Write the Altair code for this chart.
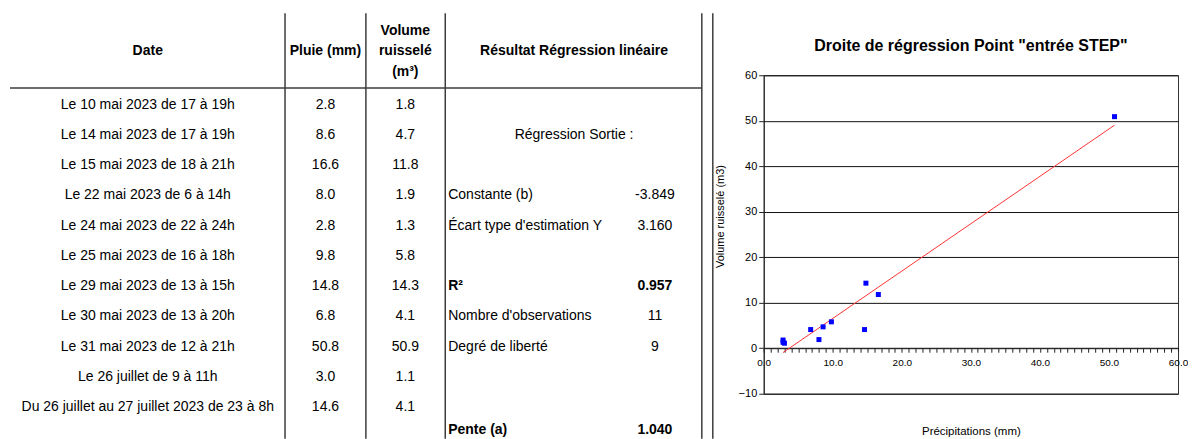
import altair as alt
import pandas as pd

FONT = "Liberation Sans"

# ---------------- data ----------------
dates = [
    "Le 10 mai 2023 de 17 à 19h",
    "Le 14 mai 2023 de 17 à 19h",
    "Le 15 mai 2023 de 18 à 21h",
    "Le 22 mai 2023 de 6 à 14h",
    "Le 24 mai 2023 de 22 à 24h",
    "Le 25 mai 2023 de 16 à 18h",
    "Le 29 mai 2023 de 13 à 15h",
    "Le 30 mai 2023 de 13 à 20h",
    "Le 31 mai 2023 de 12 à 21h",
    "Le 26 juillet de 9 à 11h",
    "Du 26 juillet au 27 juillet 2023 de 23 à 8h",
]
pluie = [2.8, 8.6, 16.6, 8.0, 2.8, 9.8, 14.8, 6.8, 50.8, 3.0, 14.6]
volume = [1.8, 4.7, 11.8, 1.9, 1.3, 5.8, 14.3, 4.1, 50.9, 1.1, 4.1]

reg_heading = "Régression Sortie :"
reg_heading_row = 1
reg_labels = ["Constante (b)", "Écart type d'estimation Y", "R²",
              "Nombre d'observations", "Degré de liberté", "Pente (a)"]
reg_values = ["-3.849", "3.160", "0.957", "11", "9", "1.040"]
reg_rows = [3, 4, 6, 7, 8, 10.75]
reg_bold = [False, False, True, False, False, True]

chart_title = 'Droite de régression Point "entrée STEP"'
x_title = "Précipitations (mm)"
y_title = "Volume ruisselé (m3)"

# ---------------- table ----------------
rows_df = pd.DataFrame({"row": list(range(len(dates))), "date": dates,
                        "pluie": pluie, "volume": volume})
reg_df = pd.DataFrame({"row": reg_rows, "label": reg_labels,
                       "value": reg_values, "bold": reg_bold})
one = pd.DataFrame({"k": [0]})

TW, TH = 707, 356
R_TOP, R_BOT = -3.135, 11.09
# table rows are mapped so that the header sits above the view top
yscale = alt.Scale(domain=[R_TOP, R_BOT], range=[-67, 364], nice=False, zero=False)
LINE = "#3c3c3c"


def yfield():
    return alt.Y("row:Q", scale=yscale, axis=None)


def ydatum(v):
    return alt.YDatum(v, scale=yscale, axis=None)


layers = []
# vertical separators
for xv in [277.5, 358.5, 438, 695, 706]:
    layers.append(
        alt.Chart(one).mark_rule(color=LINE, strokeWidth=1.5).encode(
            x=alt.value(xv), y=ydatum(-2.97), y2=alt.Y2Datum(R_BOT))
    )
# header underline
layers.append(
    alt.Chart(one).mark_rule(color=LINE, strokeWidth=1.5).encode(
        x=alt.value(2), x2=alt.value(695), y=ydatum(-0.5))
)
# headers
hdr = dict(font=FONT, fontSize=14, fontWeight="bold", baseline="middle", color="black")
for txt, xv, rv, dy in [("Date", 140, -1.78, 2), ("Pluie (mm)", 318, -1.78, 2),
                        ("Volume", 398, -2.41, 1), ("ruisselé", 398, -1.78, 2),
                        ("(m³)", 398, -1.03, 0),
                        ("Résultat Régression linéaire", 567, -1.78, 2)]:
    layers.append(alt.Chart(one).mark_text(text=txt, dy=dy, **hdr).encode(
        x=alt.value(xv), y=ydatum(rv)))

cell = dict(font=FONT, fontSize=14, baseline="middle", color="black", dy=1.5)
layers.append(alt.Chart(rows_df).mark_text(align="center", **cell).encode(
    x=alt.value(140), y=yfield(), text="date:N"))
layers.append(alt.Chart(rows_df).mark_text(align="center", **cell).encode(
    x=alt.value(318), y=yfield(), text=alt.Text("pluie:Q", format=".1f")))
layers.append(alt.Chart(rows_df).mark_text(align="center", **cell).encode(
    x=alt.value(398), y=yfield(), text=alt.Text("volume:Q", format=".1f")))
layers.append(alt.Chart(one).mark_text(text=reg_heading, align="center", **cell).encode(
    x=alt.value(567), y=ydatum(reg_heading_row)))
for b in [False, True]:
    w = "bold" if b else "normal"
    sub = reg_df[reg_df["bold"] == b]
    layers.append(alt.Chart(sub).mark_text(align="left", fontWeight=w, **cell).encode(
        x=alt.value(441), y=yfield(), text="label:N"))
    layers.append(alt.Chart(sub).mark_text(align="center", fontWeight=w, **cell).encode(
        x=alt.value(648), y=yfield(), text="value:N"))

table = alt.layer(*layers).properties(width=TW, height=TH)

# ---------------- scatter ----------------
pts = pd.DataFrame({"pluie": pluie, "volume": volume})
PW, PH = 415, 319
XMIN, XMAX, YMIN, YMAX = 0, 60, -10, 60
zero_offset = -(0 - YMIN) / (YMAX - YMIN) * PH

xenc = alt.X(
    "pluie:Q",
    scale=alt.Scale(domain=[XMIN, XMAX], nice=False, zero=False),
    axis=alt.Axis(
        values=list(range(XMIN, XMAX + 1)),
        labelExpr="datum.value % 10 === 0 ? format(datum.value, '.1f') : ''",
        labelOverlap=False, labelFlush=False, labelBound=False, labelSeparation=0,
        tickSize=4, tickColor="#222", domainColor="#222",
        labelFont=FONT, labelFontSize=10, labelColor="black", labelPadding=5,
        offset=zero_offset, grid=False,
        title=x_title, titleFont=FONT, titleFontSize=11.5, titleFontWeight="normal",
        titleColor="black", titleY=83, titleBaseline="middle",
    ),
)
yenc = alt.Y(
    "volume:Q",
    scale=alt.Scale(domain=[YMIN, YMAX], nice=False, zero=False),
    axis=alt.Axis(
        values=list(range(YMIN, YMAX + 1, 10)), format="d",
        tickSize=5, tickColor="#222", domainColor="#222",
        grid=True, gridColor="#111111", gridWidth=1,
        labelFont=FONT, labelFontSize=11, labelColor="black", labelPadding=2,
        title=y_title, titleFont=FONT, titleFontSize=11, titleFontWeight="normal",
        titleColor="black", titleX=-43, titleY=141, titleBaseline="middle",
    ),
)

points = alt.Chart(pts).mark_square(size=25, color="#0000ff", opacity=1, filled=True).encode(
    x=xenc, y=yenc)
reg_line = alt.Chart(pts).transform_regression("pluie", "volume").mark_line(
    color="#ff3333", strokeWidth=1).encode(x=xenc, y=yenc)

scatter = alt.layer(reg_line, points).properties(
    width=PW, height=PH,
    title=alt.TitleParams(text=["", chart_title], font=FONT, fontSize=16, fontWeight="bold",
                          color="black", lineHeight=29, offset=15, anchor="middle", frame="group"),
    view=alt.ViewBackground(stroke="#333333", strokeWidth=1),
)

chart = alt.hconcat(table, scatter, spacing=0).properties(
    padding={"left": 0, "top": 0, "right": -1, "bottom": 0}, background="white"
).configure_view(strokeWidth=0)

chart.save("out.html", embed_options={"renderer": "svg", "actions": False})
